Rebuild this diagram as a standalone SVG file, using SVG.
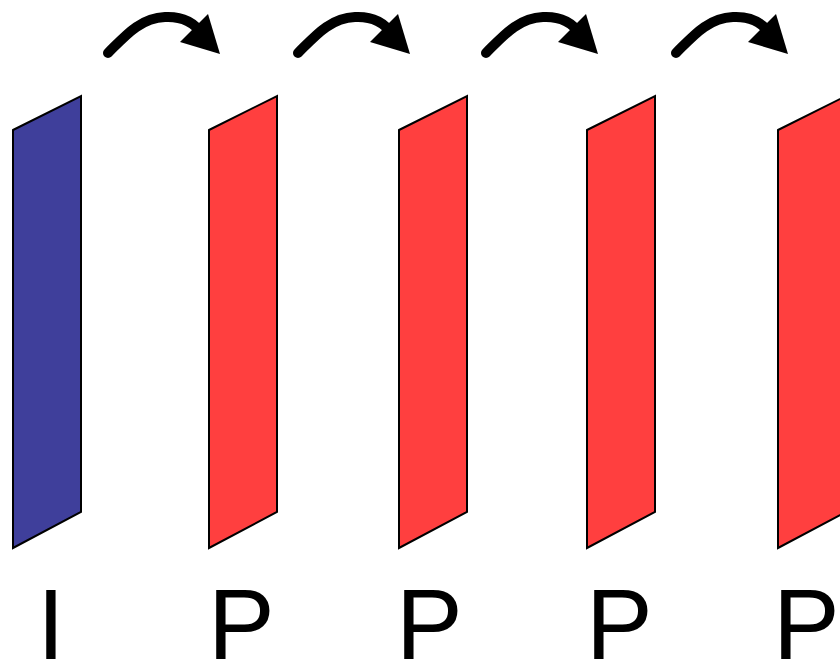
<svg xmlns="http://www.w3.org/2000/svg" width="840" height="662" viewBox="0 0 840 662">
<defs>
<style>
.frame{stroke:#000;stroke-width:2;stroke-linejoin:miter}
.i{fill:#3f3f9b}
.p{fill:#ff3f3f}
.curve{fill:none;stroke:#000;stroke-width:10;stroke-linecap:round}
.head{fill:#000}
.lbl{font-family:"Liberation Sans",Arial,sans-serif;font-size:100px;fill:#000}
</style>
<g id="arrow">
<path class="curve" d="M108,53 C125,36 140,18 165,17 C185,16 196,25 202,34"/>
<polygon class="head" points="208,14 220,54 180,42"/>
</g>
</defs>
<g id="frame-1"><polygon class="frame i" points="13,130 81,96 81,512 13,548"/><text class="lbl" x="37" y="659">I</text></g>
<g id="frame-2"><polygon class="frame p" points="209,130 277,96 277,512 209,548"/><text class="lbl" x="208" y="659">P</text></g>
<g id="frame-3"><polygon class="frame p" points="399,130 467,96 467,512 399,548"/><text class="lbl" x="396" y="659">P</text></g>
<g id="frame-4"><polygon class="frame p" points="587,130 655,96 655,512 587,548"/><text class="lbl" x="586" y="659">P</text></g>
<g id="frame-5"><polygon class="frame p" points="778,130 846,96 846,512 778,548"/><text class="lbl" x="773" y="659">P</text></g>
<g id="connectors">
<use href="#arrow"/>
<use href="#arrow" transform="translate(190,0)"/>
<use href="#arrow" transform="translate(378,0)"/>
<use href="#arrow" transform="translate(568,0)"/>
</g>
</svg>
